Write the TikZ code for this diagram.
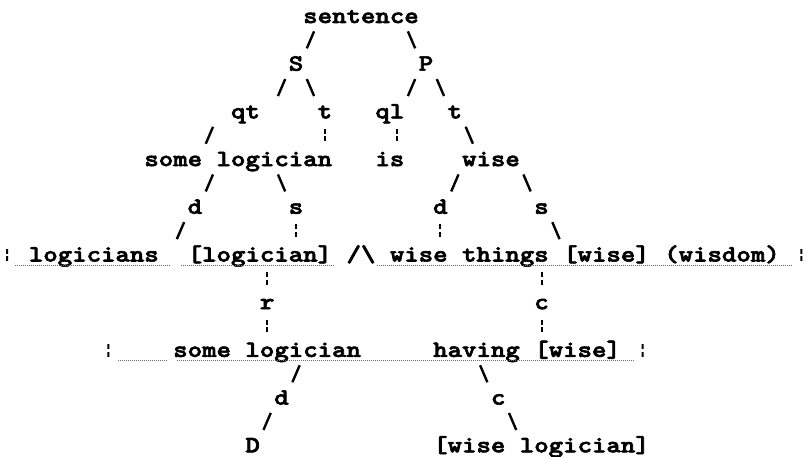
\documentclass[tikz,border=0pt]{standalone}
\usepackage{graphicx}
\usepackage{fontspec}
\newfontfamily\monob{lmmonolt10-bold}[Extension=.otf, FakeBold=2.5]
\newcommand\Wd{14.44pt}
\newcommand\tx[1]{\scalebox{1}[0.85]{#1}}
\newcommand\putw[4]{\node[txt] (#1) at ({(#2-1)*14.44},{23+(#3-1)*23.85}) {\tx{#4}};}
\newcommand\putbar[3]{\node[bbar] (#1) at ({(#2-0.5)*14.44},{16.5+(#3-1)*23.85}) {};}
\tikzset{
  txt/.style={anchor=base west, inner sep=0pt, outer sep=0pt, text height=14pt, text depth=0pt,
    font=\monob\fontsize{27.5}{28}\selectfont},
  sl/.style={line width=2.4pt, shorten <=9.1pt, shorten >=9.1pt},
  vb/.style={line width=2pt, shorten <=10.6pt, shorten >=10.6pt, dash pattern=on 5pt off 2.5pt},
  bbar/.style={inner sep=0pt, outer sep=0pt, minimum width=2pt, minimum height=12.5pt,
    path picture={\draw[line width=4pt, dash pattern=on 5pt off 2.5pt]
      (path picture bounding box.north) -- (path picture bounding box.south);}},
  uline/.style={draw=gray!85!black, line width=0.8pt, dash pattern=on 1pt off 1pt},
}
\begin{document}
\begin{tikzpicture}[x=1pt,y=-1pt]
\fill[white] (0,0) rectangle (809,457);
\useasboundingbox (0,0) rectangle (809,457);
% text nodes
\putw{sent}{22}{1}{sentence}
\putw{S}{21}{3}{S}
\putw{P}{30}{3}{P}
\putw{qt}{17}{5}{qt}
\putw{tS}{23}{5}{t}
\putw{ql}{27}{5}{ql}
\putw{tP}{32}{5}{t}
\putw{slog}{11}{7}{some logician}
\putw{is}{27}{7}{is}
\putw{wise}{33}{7}{wise}
\putw{dL}{14}{9}{d}
\putw{sL}{21}{9}{s}
\putw{dW}{31}{9}{d}
\putw{sW}{38}{9}{s}
\putbar{b1}{1}{11}
\putw{lgs}{3}{11}{logicians}
\putw{lgn}{14}{11}{[logician]}
\putw{and}{25}{11}{/\textbackslash}
\putw{wth}{28}{11}{wise things}
\putw{wse}{40}{11}{[wise]}
\putw{wsd}{47}{11}{(wisdom)}
\putbar{b2}{56}{11}
\putw{r}{19}{13}{r}
\putw{c1}{38}{13}{c}
\putbar{b3}{8}{15}
\putw{slog2}{13}{15}{some logician}
\putw{hav}{31}{15}{having}
\putw{wse2}{38}{15}{[wise]}
\putbar{b4}{45}{15}
\putw{d3}{20}{17}{d}
\putw{c2}{35}{17}{c}
\putw{D}{18}{19}{D}
\putw{wl}{31}{19}{[wise logician]}
% underlines
\draw[uline] (15,265) -- (170,265);
\draw[uline] (181,265) -- (335,265);
\draw[uline] (377,265) -- (792,265);
\draw[uline] (118,360.4) -- (168,360.4);
\draw[uline] (177,360.4) -- (635,360.4);
% connectors
\draw[sl] ([xshift=\Wd]sent.south west) -- (S.north east);
\draw[sl] ([xshift=-\Wd]sent.south east) -- (P.north west);
\draw[sl] (S.south west) -- ([xshift=\Wd]qt.north east);
\draw[sl] (S.south east) -- (tS.north west);
\draw[sl] (P.south west) -- (ql.north east);
\draw[sl] (P.south east) -- (tP.north west);
\draw[sl] ([xshift=-\Wd]qt.south west) -- ([xshift=4*\Wd]slog.north west);
\draw[vb] (tS.south) -- (tS.south |- slog.north);
\draw[vb] ([xshift=0.5*\Wd]ql.south) -- ([xshift=0.5*\Wd]is.north);
\draw[sl] (tP.south east) -- ([xshift=\Wd]wise.north west);
\draw[sl] ([xshift=5*\Wd]slog.south west) -- (dL.north east);
\draw[sl] ([xshift=9*\Wd]slog.south west) -- (sL.north west);
\draw[sl] (wise.south west) -- (dW.north east);
\draw[sl] (wise.south east) -- (sW.north west);
\draw[sl] (dL.south west) -- ([xshift=\Wd]lgs.north east);
\draw[vb] (sL.south) -- (sL.south |- lgn.north);
\draw[vb] (dW.south) -- (dW.south |- wth.north);
\draw[sl] (sW.south east) -- (wse.north west);
\draw[vb] (r.north |- lgn.south) -- (r.north);
\draw[vb] (r.south) -- (r.south |- slog2.north);
\draw[vb] (c1.north |- wth.south) -- (c1.north);
\draw[vb] (c1.south) -- (c1.south |- hav.north);
\draw[sl] ([xshift=9*\Wd]slog2.south west) -- (d3.north east);
\draw[sl] (d3.south west) -- (D.north east);
\draw[sl] ([xshift=3*\Wd]hav.south west) -- (c2.north west);
\draw[sl] (c2.south east) -- ([xshift=6*\Wd]wl.north west);
\end{tikzpicture}
\end{document}
